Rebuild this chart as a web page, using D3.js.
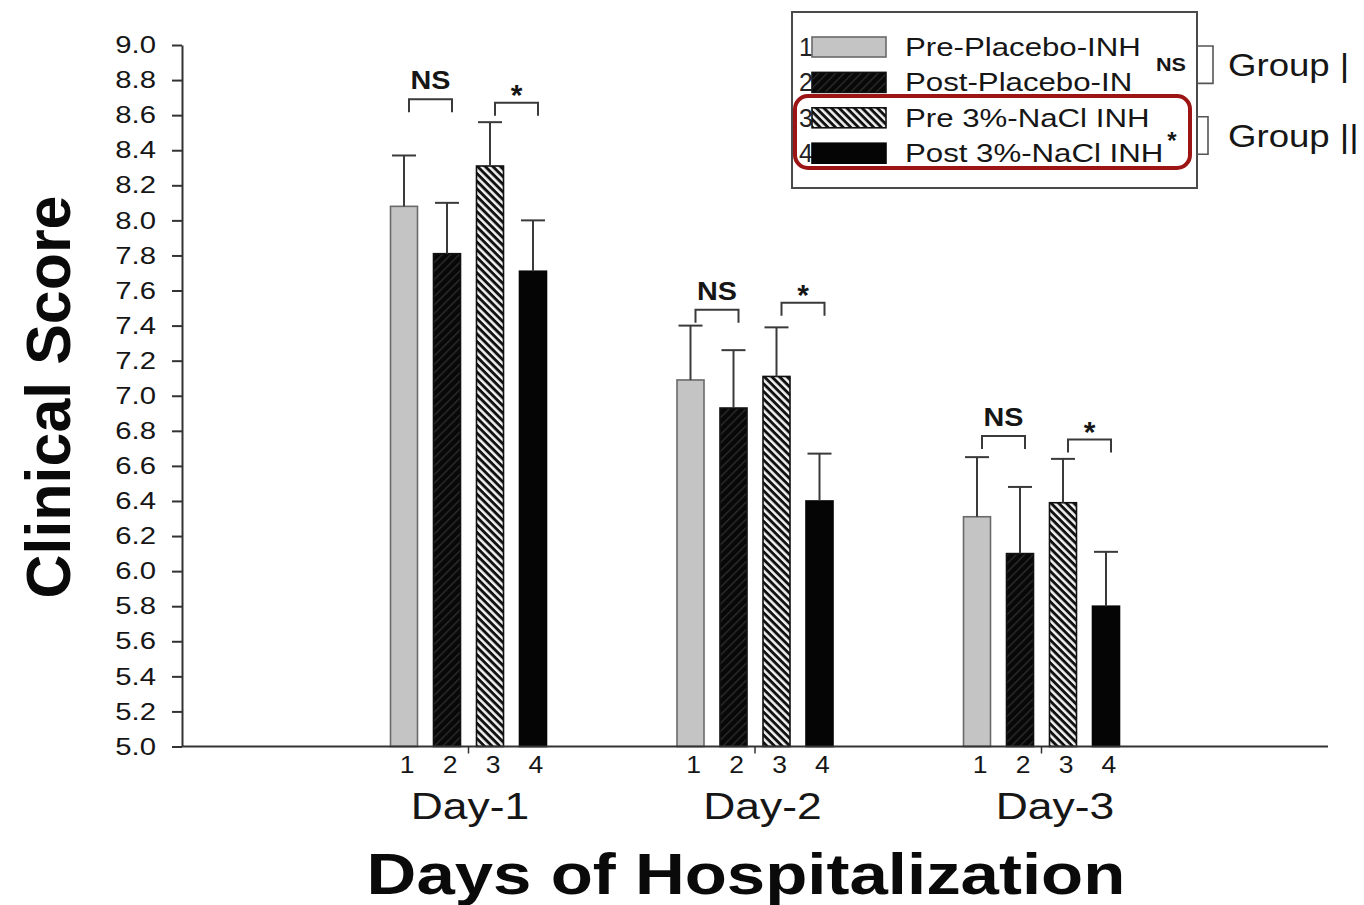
<!DOCTYPE html>
<html>
<head>
<meta charset="utf-8">
<script src="https://cdn.jsdelivr.net/npm/d3@7"></script>
<style>
  html, body { margin: 0; background: #fff; }
  svg { display: block; font-family: "Liberation Sans", Arial, Helvetica, sans-serif; }
</style>
</head>
<body>
<svg id="chart" width="1364" height="905"></svg>
<script>
// ---- data ----
const days = ["Day-1", "Day-2", "Day-3"];
const seriesNumbers = ["1", "2", "3", "4"];
const seriesNames = ["Pre-Placebo-INH", "Post-Placebo-IN", "Pre 3%-NaCl INH", "Post 3%-NaCl INH"];

// mean clinical score per day
const prePlacebo  = [8.08, 7.09, 6.31];
const postPlacebo = [7.81, 6.93, 6.10];
const preNaCl     = [8.31, 7.11, 6.39];
const postNaCl    = [7.71, 6.40, 5.80];

// upper error (SD) per day
const prePlaceboErr  = [0.29, 0.31, 0.34];
const postPlaceboErr = [0.29, 0.33, 0.38];
const preNaClErr     = [0.25, 0.28, 0.25];
const postNaClErr    = [0.29, 0.27, 0.31];

const yTickLabels = ["5.0","5.2","5.4","5.6","5.8","6.0","6.2","6.4","6.6","6.8","7.0",
                     "7.2","7.4","7.6","7.8","8.0","8.2","8.4","8.6","8.8","9.0"];

// pairwise comparisons drawn above each day: [first bar, second bar, label]
const comparisons = [[0, 1, "NS"], [2, 3, "*"]];
const nsBracketLevel   = [8.69, 7.49, 6.77];
const starBracketLevel = [8.67, 7.53, 6.75];

const groupLabels = ["Group |", "Group ||"];
const groupSignificance = ["NS", "*"];

const means = [prePlacebo, postPlacebo, preNaCl, postNaCl];
const errs  = [prePlaceboErr, postPlaceboErr, preNaClErr, postNaClErr];

// ---- layout ----
const svg = d3.select("#chart");
const AXIS = "#333";
const TEXT = "#161616";
const FONT_STRETCH = 1.2;

function widen(sel, k = FONT_STRETCH) {
  sel.each(function () {
    const w = this.getComputedTextLength();
    d3.select(this).attr("textLength", w * k).attr("lengthAdjust", "spacingAndGlyphs");
  });
}

svg.append("rect").attr("width", 1364).attr("height", 905).attr("fill", "#fff");

const y = d3.scaleLinear().domain([5, 9]).range([746.5, 45]);
const xg = d3.scaleLinear().domain([0, 4]).range([182, 1328]);
const xb = d3.scaleBand().domain(d3.range(4)).range([-78, 78]).paddingInner(0.372);
// day captions sit on a slightly wider spacing than the bar groups
const xLabel = d3.scaleLinear().domain([1, 3]).range([470, 1055]);

// ---- fill patterns ----
const defs = svg.append("defs");
const hatchDark = defs.append("pattern").attr("id", "hatchDark")
  .attr("patternUnits", "userSpaceOnUse").attr("width", 6).attr("height", 6)
  .attr("patternTransform", "rotate(45)");
hatchDark.append("rect").attr("width", 6).attr("height", 6).attr("fill", "#080808");
hatchDark.append("rect").attr("width", 1.3).attr("height", 6).attr("fill", "#2e2e2e");

const stripes = defs.append("pattern").attr("id", "stripes")
  .attr("patternUnits", "userSpaceOnUse").attr("width", 5.4).attr("height", 6)
  .attr("patternTransform", "rotate(-45)");
stripes.append("rect").attr("width", 5.4).attr("height", 6).attr("fill", "#111");
stripes.append("rect").attr("width", 2.5).attr("height", 6).attr("fill", "#f2f2f2");

const fills   = ["#c4c4c4", "url(#hatchDark)", "url(#stripes)", "#050505"];
const strokes = ["#6a6a6a", "#111", "#111", "#050505"];

const barCenter = (s, d) => xg(d + 1) + xb(s) + xb.bandwidth() / 2;

// ---- bars ----
const barData = [];
means.forEach((arr, s) => arr.forEach((v, d) => barData.push({ s, d, v, e: errs[s][d] })));

const gBars = svg.append("g");
gBars.selectAll("rect").data(barData).join("rect")
  .attr("x", b => xg(b.d + 1) + xb(b.s))
  .attr("y", b => y(b.v))
  .attr("width", xb.bandwidth())
  .attr("height", b => y(5) - y(b.v))
  .attr("fill", b => fills[b.s])
  .attr("stroke", b => strokes[b.s])
  .attr("stroke-width", 1.6);

// ---- error bars (upper only) ----
const gErr = svg.append("g").attr("stroke", "#3a3a3a").attr("stroke-width", 2);
gErr.selectAll("line.v").data(barData).join("line").attr("class", "v")
  .attr("x1", b => barCenter(b.s, b.d)).attr("x2", b => barCenter(b.s, b.d))
  .attr("y1", b => y(b.v)).attr("y2", b => y(b.v + b.e));
gErr.selectAll("line.c").data(barData).join("line").attr("class", "c")
  .attr("x1", b => barCenter(b.s, b.d) - 12).attr("x2", b => barCenter(b.s, b.d) + 12)
  .attr("y1", b => y(b.v + b.e)).attr("y2", b => y(b.v + b.e));

// ---- axes ----
const yAxis = d3.axisLeft(y)
  .tickValues(yTickLabels.map(Number))
  .tickFormat((d, i) => yTickLabels[i])
  .tickSize(10).tickSizeOuter(0).tickPadding(16);
const gy = svg.append("g").attr("transform", `translate(${xg(0)},0)`).call(yAxis);
gy.select(".domain").attr("stroke", AXIS).attr("stroke-width", 2);
gy.selectAll(".tick line").attr("stroke", AXIS).attr("stroke-width", 2);
gy.selectAll(".tick text").attr("fill", TEXT).attr("font-size", 24)
  .attr("font-family", "Liberation Sans, Arial, sans-serif").call(widen, 1.22);

svg.append("line").attr("x1", xg(0)).attr("x2", xg(4))
  .attr("y1", y(5)).attr("y2", y(5)).attr("stroke", AXIS).attr("stroke-width", 2);
svg.append("g").selectAll("line").data(days).join("line")
  .attr("x1", (d, i) => xg(i + 1)).attr("x2", (d, i) => xg(i + 1))
  .attr("y1", y(5)).attr("y2", y(5) + 7).attr("stroke", AXIS).attr("stroke-width", 1.5);

// bar numbers under each group
const numData = [];
days.forEach((d, di) => seriesNumbers.forEach((n, si) => numData.push({ n, si, di })));
svg.append("g").selectAll("text").data(numData).join("text")
  .attr("x", t => barCenter(t.si, t.di) + 3).attr("y", 773)
  .attr("text-anchor", "middle").attr("font-size", 23).attr("fill", TEXT)
  .text(t => t.n).call(widen, 1.15);

// day labels
svg.append("g").selectAll("text").data(days).join("text")
  .attr("x", (d, i) => xLabel(i + 1)).attr("y", 819)
  .attr("text-anchor", "middle").attr("font-size", 37).attr("fill", TEXT)
  .text(d => d).call(widen);

// axis titles
svg.append("text").attr("x", 746).attr("y", 894).attr("text-anchor", "middle")
  .attr("font-size", 57).attr("font-weight", "bold").attr("fill", "#0a0a0a")
  .text("Days of Hospitalization").call(widen, 1.21);

svg.append("text").attr("transform", "translate(70,397) rotate(-90)")
  .attr("text-anchor", "middle").attr("font-size", 63).attr("font-weight", "bold")
  .attr("fill", "#0a0a0a").text("Clinical Score")
  .each(function () { d3.select(this).attr("textLength", 403).attr("lengthAdjust", "spacingAndGlyphs"); });

// ---- significance brackets ----
const gSig = svg.append("g");
days.forEach((d, di) => {
  comparisons.forEach(([a, b, lab]) => {
    const lvl = lab === "NS" ? nsBracketLevel[di] : starBracketLevel[di];
    const x1 = barCenter(a, di) + 5, x2 = barCenter(b, di) + 5, yy = y(lvl);
    gSig.append("path")
      .attr("d", `M${x1},${yy + 13}V${yy}H${x2}V${yy + 13}`)
      .attr("fill", "none").attr("stroke", "#3a3a3a").attr("stroke-width", 2);
    if (lab === "NS") {
      gSig.append("text").attr("x", (x1 + x2) / 2).attr("y", yy - 10)
        .attr("text-anchor", "middle").attr("font-size", 25).attr("font-weight", "bold")
        .attr("fill", TEXT).text(lab).call(widen, 1.15);
    } else {
      gSig.append("text").attr("x", (x1 + x2) / 2).attr("y", yy + 2)
        .attr("text-anchor", "middle").attr("font-size", 30).attr("font-weight", "bold")
        .attr("fill", TEXT).text(lab);
    }
  });
});

// ---- legend ----
const legend = svg.append("g");
legend.append("rect").attr("x", 792).attr("y", 12).attr("width", 405).attr("height", 176)
  .attr("fill", "#fff").attr("stroke", "#4a4a4a").attr("stroke-width", 2);

const rowY = i => 47 + i * 35.4;

function legendRow(i) {
  const cy = rowY(i);
  legend.append("text").attr("x", 799).attr("y", cy + 9).attr("font-size", 25)
    .attr("fill", "#222").text(seriesNumbers[i]);
  legend.append("rect").attr("x", 812).attr("y", cy - 10).attr("width", 74).attr("height", 20)
    .attr("fill", fills[i]).attr("stroke", strokes[i]).attr("stroke-width", 1.6);
  legend.append("text").attr("x", 905).attr("y", cy + 9).attr("font-size", 26)
    .attr("fill", TEXT).text(seriesNames[i]).call(widen);
}
legendRow(0);
legendRow(1);

// highlight box round the hypertonic saline rows
legend.append("rect").attr("x", 795).attr("y", 96).attr("width", 395).attr("height", 72)
  .attr("rx", 13).attr("fill", "#fff").attr("stroke", "#9c1414").attr("stroke-width", 4);
legendRow(2);
legendRow(3);

// group brackets and labels
const groupSpan = [[0, 1], [2, 3]];
groupSpan.forEach(([a, b], gi) => {
  const y1 = rowY(a) - 1, y2 = rowY(b) + 1, xr = gi === 0 ? 1213 : 1208;
  legend.append("path").attr("d", `M1197,${y1}H${xr}V${y2}H1197`)
    .attr("fill", "none").attr("stroke", "#555").attr("stroke-width", 1.6);
  legend.append("text").attr("x", 1228).attr("y", (y1 + y2) / 2 + 11).attr("font-size", 31)
    .attr("fill", TEXT).text(groupLabels[gi]).call(widen, 1.18);
});
legend.append("text").attr("x", 1171).attr("y", 71).attr("text-anchor", "middle")
  .attr("font-size", 18).attr("font-weight", "bold").attr("fill", TEXT)
  .text(groupSignificance[0]).call(widen, 1.2);
legend.append("text").attr("x", 1172).attr("y", 149).attr("text-anchor", "middle")
  .attr("font-size", 24).attr("font-weight", "bold").attr("fill", TEXT)
  .text(groupSignificance[1]);
</script>
</body>
</html>
